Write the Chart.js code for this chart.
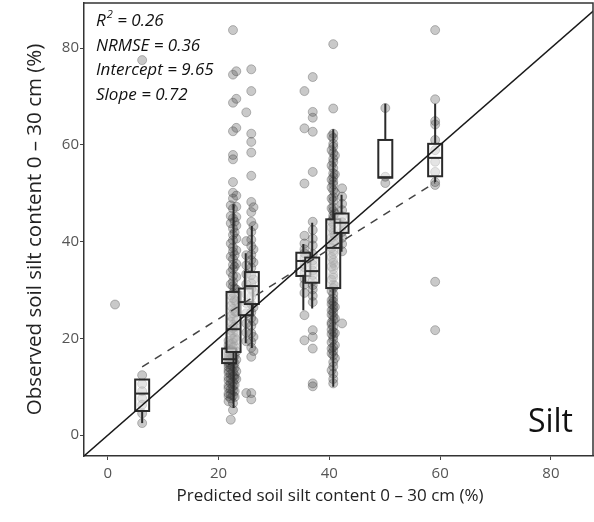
<!DOCTYPE html>
<html>
<head>
<meta charset="utf-8">
<title>Observed vs predicted silt</title>
<script src="https://cdn.jsdelivr.net/npm/chart.js"></script>
<style>
  html, body { margin: 0; padding: 0; background: #fff; }
</style>
</head>
<body>
<canvas id="myChart" width="594" height="522"></canvas>
<script>
// observed silt (%) grouped by predicted value columns
var obsAt1  = [27.0];
var obsAt6  = [77.5, 12.4, 10.6, 9.1, 7.6, 6.3, 4.5, 2.5];
var obsAt22a = [19.5, 18.6, 17.8, 17.1, 16.6, 16.0, 15.6, 15.1, 14.7, 14.1, 13.4, 12.9, 11.9, 11.3, 10.2, 9.7, 8.6, 8.1, 7.0];
var obsAt22b = [83.7, 74.5, 68.7, 62.8, 57.9, 57.0, 52.3, 50.1, 48.9, 46.8, 44.8, 42.7, 41.4, 40.3, 38.8, 37.9,
                36.4, 35.2, 34.3, 32.9, 31.7, 30.8, 29.4, 28.3, 27.4, 26.1, 25.2, 24.1, 22.8, 22.1, 21.2, 19.9,
                19.1, 18.2, 17.3, 16.2, 15.3, 14.2, 13.1, 12.2, 11.0, 10.1, 9.3, 8.2, 6.6, 5.2];
var obsAt22c = [47.5, 45.3, 43.8, 39.6, 36.9, 33.7, 31.2, 28.9, 26.7, 24.6, 23.4, 21.7, 20.6, 18.8, 17.6, 16.9,
                15.8, 14.6, 13.7, 12.6, 11.6, 10.7, 9.5, 8.4, 7.6, 3.2];
var obsAt22d = [44.1, 41.9, 37.2, 34.8, 30.3, 27.9, 25.6, 22.4, 20.1, 18.3, 16.4, 14.9, 13.9, 12.4, 11.8, 10.4, 9.1, 7.9];
var obsAt23 = [75.2, 69.5, 63.5, 49.5, 47.2, 45.1, 43.3, 40.6, 38.2, 35.4, 32.7, 30.1, 27.6, 25.4, 23.7, 21.4, 19.6, 17.3, 15.6, 13.2, 11.6];
var obsAt25 = [66.7, 40.1, 37.2, 35.1, 33.3, 31.2, 29.1, 27.3, 25.2, 23.1, 21.2, 19.4, 8.7];
var obsAt26 = [75.6, 71.1, 62.3, 60.6, 58.4, 53.6, 48.2, 46.1, 44.1, 42.0, 40.4, 39.1, 37.3, 36.2, 34.6, 33.1, 31.4,
               30.2, 28.6, 27.1, 25.4, 24.2, 22.6, 21.1, 19.3, 18.1, 16.2, 8.7, 7.4];
var obsAt26b = [47.1, 43.2, 38.4, 35.7, 32.2, 29.6, 26.4, 23.6, 20.3, 17.4];
var obsAt35 = [71.1, 63.4, 52.0, 41.2, 39.6, 38.4, 37.6, 36.6, 35.4, 34.7, 33.6, 32.3, 31.1, 29.4, 24.8, 19.6];
var obsAt37 = [74.0, 66.8, 65.6, 62.7, 54.4, 44.1, 42.4, 40.6, 39.2, 37.4, 36.1, 35.2, 34.0, 33.1, 31.9, 31.0,
               30.1, 28.8, 27.5, 21.7, 20.3, 17.9, 10.7, 10.1];
var obsAt41 = [80.8, 67.5, 62.3, 61.4, 60.2, 59.6, 58.3, 57.1, 56.4, 55.2, 54.1, 53.3, 52.4, 51.8, 50.6, 49.2,
               48.4, 47.1, 46.3, 45.4, 44.8, 43.6, 42.3, 41.7, 40.2, 39.6, 38.1, 37.4, 36.2, 35.6, 34.3, 33.2,
               32.6, 31.1, 30.4, 29.2, 28.3, 27.6, 26.8, 26.1, 25.4, 24.6, 23.8, 22.4, 21.3, 20.4, 19.7, 18.2,
               17.4, 16.5, 15.1, 14.2, 12.7, 11.6, 10.7];
var obsAt41b = [61.8, 58.9, 55.7, 52.8, 51.2, 48.9, 46.9, 44.2, 42.9, 40.8, 38.7, 36.8, 34.8, 32.1, 29.8, 27.9,
                27.1, 25.8, 24.9, 23.3, 22.9, 21.8, 20.9, 19.2, 17.9, 16.9, 13.4];
var obsAt41c = [57.8, 53.9, 50.1, 45.8, 41.3, 35.1, 30.9, 26.5, 24.1, 21.1, 18.6, 15.9];
var obsAt42 = [51.0, 49.3, 47.8, 46.5, 45.2, 44.0, 43.1, 42.0, 40.8, 39.5, 38.0, 23.1];
var obsAt50 = [67.6, 53.4, 52.1];
var obsAt59 = [83.7, 69.4, 64.9, 64.2, 61.0, 58.9, 56.5, 54.4, 52.3, 51.7, 31.7, 21.7];

var columnPred = [1.3, 6.2, 21.8, 22.6, 22.2, 22.9, 23.2, 25.0, 25.9, 26.3, 35.5, 37.0, 40.7, 40.4, 41.0, 42.3, 50.1, 59.1];
var columnObs  = [obsAt1, obsAt6, obsAt22a, obsAt22b, obsAt22c, obsAt22d, obsAt23, obsAt25, obsAt26, obsAt26b,
                  obsAt35, obsAt37, obsAt41, obsAt41b, obsAt41c, obsAt42, obsAt50, obsAt59];

// boxplot summaries per predicted class
var boxPred = [6.2, 21.9, 22.7, 24.9, 26.0, 35.3, 36.9, 40.7, 42.2, 50.1, 59.1];
var boxLow  = [2.5, 14.5, 5.6, 19.0, 18.0, 25.8, 26.2, 10.0, 37.9, 53.2, 52.3];
var boxQ1   = [5.0, 14.9, 17.2, 24.8, 27.1, 32.9, 31.5, 30.4, 41.8, 53.2, 53.5];
var boxMed  = [8.6, 15.7, 21.9, 27.5, 30.8, 36.0, 33.9, 38.7, 43.9, 53.3, 57.3];
var boxQ3   = [11.5, 17.9, 29.6, 30.3, 33.7, 37.7, 36.7, 44.6, 45.8, 61.0, 60.2];
var boxHigh = [11.5, 18.5, 47.7, 37.6, 43.2, 39.5, 43.9, 63.2, 49.7, 68.5, 68.5];

// fitted regression (dashed) end points and 1:1 line
var regX = [6.2, 59.1];
var regY = [14.1, 52.2];
var lineX = [-5, 95];
var statLabels = ['NRMSE = 0.36', 'Intercept = 9.65', 'Slope = 0.72'];
var r2Value = '0.26';
var tickValues = [0, 20, 40, 60, 80];
var xTitle = 'Predicted soil silt content 0 \u2013 30 cm (%)';
var yTitle = 'Observed soil silt content 0 \u2013 30 cm (%)';

var scatterData = [];
columnObs.forEach(function (list, i) {
    list.forEach(function (v) {
        scatterData.push({ x: columnPred[i], y: v });
    });
});

var ctx = document.getElementById('myChart').getContext('2d');

var boxPlugin = {
    id: 'boxes',
    afterDatasetDraw: function (chart, args) {
        if (args.index !== 2) return;
        var c = chart.ctx, xs = chart.scales.x, ys = chart.scales.y;
        var half = 7;
        c.save();
        c.beginPath();
        c.rect(chart.chartArea.left, chart.chartArea.top, chart.chartArea.width, chart.chartArea.height);
        c.clip();
        for (var i = 0; i < boxPred.length; i++) {
            var px = xs.getPixelForValue(boxPred[i]);
            var q1 = ys.getPixelForValue(boxQ1[i]);
            var q3 = ys.getPixelForValue(boxQ3[i]);
            var md = ys.getPixelForValue(boxMed[i]);
            c.strokeStyle = '#2a2a2a';
            c.lineWidth = 2;
            // whiskers
            c.beginPath();
            c.moveTo(px, ys.getPixelForValue(boxHigh[i]));
            c.lineTo(px, q3);
            c.moveTo(px, q1);
            c.lineTo(px, ys.getPixelForValue(boxLow[i]));
            c.stroke();
            // box
            c.fillStyle = 'rgba(255,255,255,0.5)';
            c.fillRect(px - half, q3, half * 2, q1 - q3);
            c.strokeRect(px - half, q3, half * 2, q1 - q3);
            c.beginPath();
            c.moveTo(px - half, md);
            c.lineTo(px + half, md);
            c.stroke();
        }
        c.restore();
    }
};

var framePlugin = {
    id: 'frame',
    afterDraw: function (chart) {
        var c = chart.ctx, a = chart.chartArea;
        c.save();
        c.strokeStyle = '#333';
        c.lineWidth = 1.5;
        c.beginPath();
        c.moveTo(a.left, a.top);
        c.lineTo(a.right, a.top);
        c.lineTo(a.right, a.bottom);
        c.stroke();

        // statistics text
        c.fillStyle = '#111';
        c.textBaseline = 'alphabetic';
        c.font = 'italic 17px "Open Sans"';
        var x0 = 96;
        c.fillText('R', x0, 26);
        var w = c.measureText('R').width;
        c.font = 'italic 11px "Open Sans"';
        c.fillText('2', x0 + w + 1, 18);
        var w2 = c.measureText('2').width;
        c.font = 'italic 17px "Open Sans"';
        c.fillText(' = ' + r2Value, x0 + w + w2 + 1, 26);
        statLabels.forEach(function (s, i) {
            c.fillText(s, x0, 51 + i * 24.3);
        });

        // x axis title
        c.font = '17px "Open Sans"';
        c.fillStyle = '#222';
        c.textAlign = 'center';
        c.textBaseline = 'middle';
        c.fillText(xTitle, 330, 496);

        // panel label
        c.font = '32px "Open Sans"';
        c.textAlign = 'right';
        c.textBaseline = 'alphabetic';
        c.fillStyle = '#111';
        c.fillText('Silt', 573, 432);
        c.restore();
    }
};

var myChart = new Chart(ctx, {
    type: 'scatter',
    data: {
        datasets: [{
            type: 'line',
            label: '1:1',
            data: lineX.map(function (v) { return { x: v, y: v }; }),
            borderColor: '#1a1a1a',
            borderWidth: 1.5,
            pointRadius: 0,
            fill: false
        }, {
            type: 'line',
            label: 'fit',
            data: regX.map(function (v, i) { return { x: v, y: regY[i] }; }),
            borderColor: '#444',
            borderWidth: 1.5,
            borderDash: [8, 7],
            pointRadius: 0,
            fill: false
        }, {
            label: 'observations',
            data: scatterData,
            pointRadius: 4.5,
            backgroundColor: 'rgba(60,60,60,0.28)',
            borderColor: 'rgba(60,60,60,0.32)',
            borderWidth: 1
        }]
    },
    options: {
        responsive: false,
        animation: false,
        layout: { autoPadding: false, padding: { top: 3, right: 1, left: 0, bottom: 0 } },
        plugins: {
            legend: { display: false },
            tooltip: { enabled: false }
        },
        scales: {
            x: {
                type: 'linear',
                min: -4.3,
                max: 87.6,
                afterBuildTicks: function (scale) {
                    scale.ticks = tickValues.map(function (v) { return { value: v }; });
                },
                afterFit: function (scale) {
                    scale.height = 66;
                    scale.paddingLeft = 0;
                    scale.paddingRight = 0;
                },
                grid: { drawOnChartArea: false, tickLength: 4, color: '#444' },
                border: { color: '#333', width: 1.5 },
                ticks: { color: '#555', font: { family: 'Open Sans', size: 15 }, padding: 5 },
                title: { display: false }
            },
            y: {
                type: 'linear',
                min: -4.3,
                max: 89.3,
                afterBuildTicks: function (scale) {
                    scale.ticks = tickValues.map(function (v) { return { value: v }; });
                },
                afterFit: function (scale) {
                    scale.width = 84;
                    scale.paddingTop = 0;
                    scale.paddingBottom = 0;
                },
                grid: { drawOnChartArea: false, tickLength: 4, color: '#444' },
                border: { color: '#333', width: 1.5 },
                ticks: { color: '#555', font: { family: 'Open Sans', size: 15 }, padding: 1 },
                title: {
                    display: true,
                    text: yTitle,
                    color: '#222',
                    font: { family: 'Open Sans', size: 20.5 },
                    padding: { top: 23, bottom: 0 }
                }
            }
        }
    },
    plugins: [boxPlugin, framePlugin]
});
</script>
</body>
</html>
